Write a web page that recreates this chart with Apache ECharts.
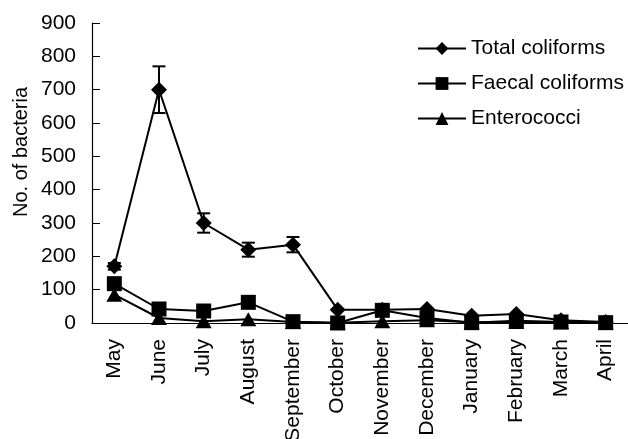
<!DOCTYPE html>
<html><head><meta charset="utf-8">
<script src="https://cdn.jsdelivr.net/npm/echarts@6/dist/echarts.min.js"></script>
<style>html,body{margin:0;padding:0;background:#fff}#c{width:628px;height:439px}</style>
</head><body><div id="c"></div>
<script>
const months = ['May','June','July','August','September','October','November','December','January','February','March','April'];
const totalColiforms = [170,700,300,220,235,40,40,42,22,27,8,3];
const totalErr = [10,70,29,21,23,0,0,0,0,0,0,0];
const faecalColiforms = [118,42,36,62,4,0,38,15,1,7,3,1];
const enterococci = [85,15,5,11,3,1,5,8,2,3,2,1];
const yTicks = [0,100,200,300,400,500,600,700,800,900];

const font = 'Liberation Sans, Arial, sans-serif';
const chart = echarts.init(document.getElementById('c'), null, {renderer:'canvas'});
const errData = months.map((m,i)=>[i, totalColiforms[i]-totalErr[i], totalColiforms[i]+totalErr[i]]).filter((d,i)=>totalErr[i]>0);
chart.setOption({
  animation:false,
  backgroundColor:'#fff',
  grid:{left:92,right:0,top:23,bottom:116,containLabel:false,outerBoundsMode:'none'},
  legend:{
    orient:'vertical', left:412, top:33, itemWidth:48, itemHeight:16, itemGap:14,
    textStyle:{fontFamily:font,fontSize:21,color:'#000'},
    data:['Total coliforms','Faecal coliforms','Enterococci']
  },
  graphic:[{type:'text', x:21, y:152, rotation:Math.PI/2,
    style:{text:'No. of bacteria', font:'20px '+font, fill:'#000', align:'center', verticalAlign:'middle'}}],
  xAxis:{type:'category', data:months, boundaryGap:true,
    axisLine:{lineStyle:{color:'#000',width:1.2}},
    axisTick:{inside:true,length:7,lineStyle:{color:'#000'}},
    axisLabel:{rotate:90,interval:0,margin:16,color:'#000',fontFamily:font,fontSize:21,hideOverlap:false}},
  yAxis:{type:'value', min:0, max:900, interval:100,
    axisLine:{show:true,lineStyle:{color:'#000',width:1.2}},
    axisTick:{show:true,inside:true,length:8,lineStyle:{color:'#000'}},
    splitLine:{show:false},
    axisLabel:{margin:16,color:'#000',fontFamily:font,fontSize:21}},
  series:[
    {name:'Total coliforms',type:'line',data:totalColiforms,symbol:'diamond',symbolSize:16,
      itemStyle:{color:'#000'},lineStyle:{color:'#000',width:2},z:3},
    {name:'Faecal coliforms',type:'line',data:faecalColiforms,symbol:'rect',symbolSize:15,
      itemStyle:{color:'#000'},lineStyle:{color:'#000',width:2},z:4},
    {name:'Enterococci',type:'line',data:enterococci,symbol:'triangle',symbolSize:[16,14],
      itemStyle:{color:'#000'},lineStyle:{color:'#000',width:2},z:2},
    {type:'custom',data:errData,z:5,
      renderItem:function(params,api){
        const x=api.value(0);
        const lo=api.coord([x,api.value(1)]);
        const hi=api.coord([x,api.value(2)]);
        const w=6.5;
        const st={stroke:'#000',lineWidth:2};
        return {type:'group',children:[
          {type:'line',shape:{x1:lo[0],y1:lo[1],x2:hi[0],y2:hi[1]},style:st},
          {type:'line',shape:{x1:lo[0]-w,y1:lo[1],x2:lo[0]+w,y2:lo[1]},style:st},
          {type:'line',shape:{x1:hi[0]-w,y1:hi[1],x2:hi[0]+w,y2:hi[1]},style:st}
        ]};
      }}
  ]
});
</script></body></html>
